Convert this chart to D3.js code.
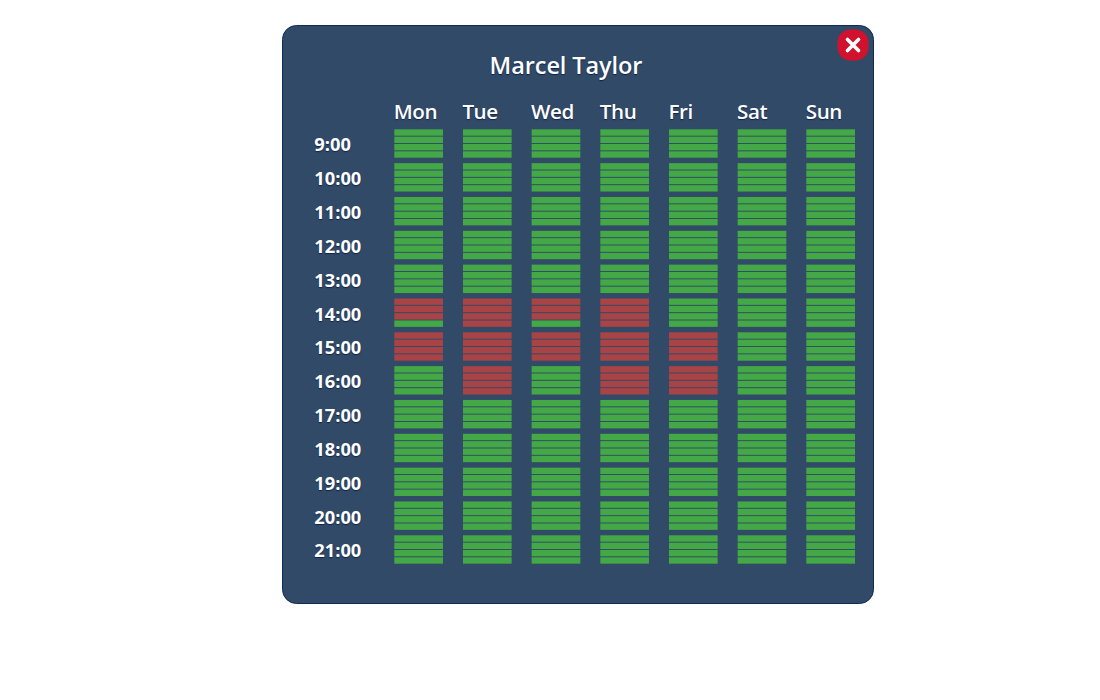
<!DOCTYPE html>
<html>
<head>
<meta charset="utf-8">
<script src="https://cdn.jsdelivr.net/npm/d3@7"></script>
<style>
  html, body { margin: 0; padding: 0; background: #fff; }
  svg { display: block; font-family: "Open Sans", sans-serif; }
  text { fill: #fff; text-shadow: 0 1px 1px rgba(10, 25, 60, 0.8); }
  .domain, .tick line { display: none; }
</style>
</head>
<body>
<svg id="chart" width="1100" height="700"></svg>
<script>
const personName = "Marcel Taylor";
const days = ["Mon", "Tue", "Wed", "Thu", "Fri", "Sat", "Sun"];
const hours = ["9:00", "10:00", "11:00", "12:00", "13:00", "14:00", "15:00", "16:00", "17:00", "18:00", "19:00", "20:00", "21:00"];
const quarters = [0, 1, 2, 3];

// booked quarters, everything else is free
const bookedMon = { "14:00": [0, 1, 2], "15:00": [0, 1, 2, 3] };
const bookedTue = { "14:00": [0, 1, 2, 3], "15:00": [0, 1, 2, 3], "16:00": [0, 1, 2, 3] };
const bookedWed = { "14:00": [0, 1, 2], "15:00": [0, 1, 2, 3] };
const bookedThu = { "14:00": [0, 1, 2, 3], "15:00": [0, 1, 2, 3], "16:00": [0, 1, 2, 3] };
const bookedFri = { "15:00": [0, 1, 2, 3], "16:00": [0, 1, 2, 3] };
const bookedByDay = { Mon: bookedMon, Tue: bookedTue, Wed: bookedWed, Thu: bookedThu, Fri: bookedFri, Sat: {}, Sun: {} };

const svg = d3.select("#chart");

svg.append("rect")
  .attr("x", 282.5).attr("y", 25.5)
  .attr("width", 591).attr("height", 578)
  .attr("rx", 14)
  .attr("fill", "#304a68")
  .attr("stroke", "#0f2a55");

svg.append("text")
  .attr("x", 566).attr("y", 74)
  .attr("text-anchor", "middle")
  .style("font-size", "23.5px")
  .style("font-weight", 600)
  .style("letter-spacing", "-0.08px")
  .text(personName);

const x = d3.scaleBand().domain(days).range([394.3, 855]).paddingInner(0.291);
const y = d3.scaleBand().domain(hours).range([129.3, 563.7]).paddingInner(0.16);
const q = d3.scaleBand().domain(quarters).range([0, y.bandwidth()]).paddingInner(0.127);

const xAxis = svg.append("g")
  .attr("transform", "translate(-0.6,119)")
  .call(d3.axisTop(x).tickSize(0).tickPadding(0));
xAxis.selectAll(".tick text")
  .attr("x", -x.bandwidth() / 2)
  .attr("y", 0)
  .attr("dy", 0)
  .attr("text-anchor", "start")
  .style("font-size", "20.6px")
  .style("font-weight", 600)
  .style("letter-spacing", "-0.4px")
  .style("font-family", "'Open Sans', sans-serif");

const yAxis = svg.append("g")
  .attr("transform", "translate(314.3,0)")
  .call(d3.axisLeft(y).tickSize(0).tickPadding(0));
yAxis.selectAll(".tick text")
  .attr("x", 0)
  .attr("dy", "0.43em")
  .attr("text-anchor", "start")
  .style("font-size", "18.3px")
  .style("font-weight", 700)
  .style("font-family", "'Open Sans', sans-serif");

const cells = [];
days.forEach(day => hours.forEach(hour => quarters.forEach(part => {
  const booked = (bookedByDay[day][hour] || []).includes(part);
  cells.push({ day, hour, part, booked });
})));

svg.append("g").selectAll("rect")
  .data(cells)
  .join("rect")
  .attr("x", d => x(d.day))
  .attr("y", d => y(d.hour) + q(d.part))
  .attr("width", x.bandwidth())
  .attr("height", q.bandwidth())
  .attr("fill", d => d.booked ? "#a84346" : "#43a845");

// close button
const close = svg.append("g").attr("transform", "translate(853,45)");
close.append("rect")
  .attr("x", -15.5).attr("y", -15.5)
  .attr("width", 31).attr("height", 31)
  .attr("rx", 13)
  .attr("fill", "#d0122f");
close.append("path")
  .attr("d", "M-5.5,-5.5L5.5,5.5M5.5,-5.5L-5.5,5.5")
  .attr("stroke", "#fff")
  .attr("stroke-width", 3.6)
  .attr("stroke-linecap", "round");
</script>
</body>
</html>
